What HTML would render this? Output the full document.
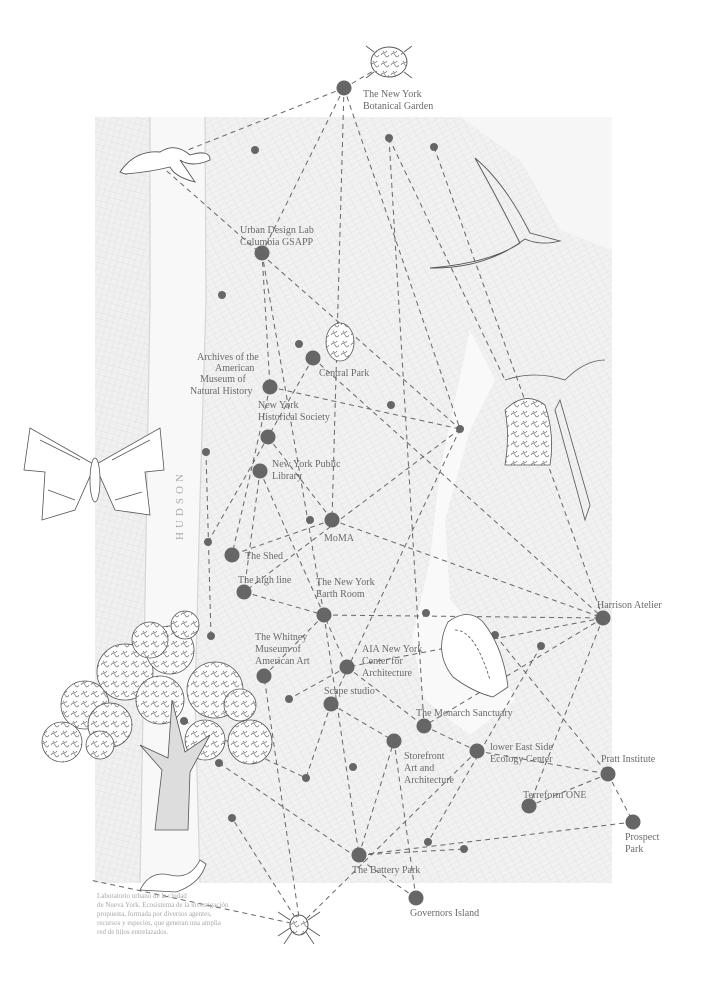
<!DOCTYPE html>
<html><head><meta charset="utf-8"><style>
html,body{margin:0;padding:0;background:#fff;}
svg{display:block;}
text{font-family:"Liberation Serif",serif;fill:#6a6a6a;font-size:10px;}
.cap{font-size:7px;fill:#a8a8a8;}
</style></head><body>
<svg width="707" height="1000" viewBox="0 0 707 1000" xmlns="http://www.w3.org/2000/svg">
<defs>
<pattern id="streets" width="8" height="5" patternUnits="userSpaceOnUse" patternTransform="rotate(-28)">
<rect width="8" height="5" fill="#f1f1f1"/>
<path d="M0 0H8M0 0V5" stroke="#e0e0e0" stroke-width="0.8"/>
</pattern>
<pattern id="streets2" width="6" height="6" patternUnits="userSpaceOnUse" patternTransform="rotate(15)">
<rect width="6" height="6" fill="#f0f0f0"/>
<path d="M0 0H6M0 0V6" stroke="#dedede" stroke-width="0.7"/>
</pattern>
<pattern id="leaf" width="10" height="10" patternUnits="userSpaceOnUse">
<rect width="10" height="10" fill="#fff"/>
<path d="M1 5q2-4 4 0t4 0M3 1q2 3 4 0" stroke="#777" stroke-width="0.7" fill="none"/>
</pattern>
</defs>
<rect x="95" y="117" width="517" height="766" fill="url(#streets)"/>
<path d="M95 117H150V883H95Z" fill="url(#streets2)"/>
<path d="M150 117 L205 117 L206 300 L200 500 L195 700 L200 883 L140 883 L145 600 L150 300 Z" fill="#f8f8f8"/>
<path d="M150 117 L150 300 L145 600 L140 883" stroke="#d6d6d6" fill="none" stroke-width="1.2"/>
<path d="M205 117 L206 300 L200 500 L195 700 L200 883" stroke="#d6d6d6" fill="none" stroke-width="1.2"/>
<text x="183" y="540" transform="rotate(-90 183 540)" style="font-size:11px;fill:#aaa;letter-spacing:4px">HUDSON</text>
<path d="M470 330 L495 380 L470 430 L445 520 L450 600 L495 650 L515 700 L470 735 L425 700 L412 640 L430 560 L440 470 Z" fill="#f9f9f9"/>
<path d="M460 117 L520 160 L560 230 L612 250 L612 117 Z" fill="#f6f6f6"/>
<g stroke="#666" stroke-width="1" stroke-dasharray="5,4" fill="none">
<path d="M344 88 L150 165"/><path d="M344 88 L389 62"/><path d="M344 88 L262 253"/>
<path d="M344 88 L332 520"/><path d="M344 88 L460 429"/><path d="M389 138 L424 726"/>
<path d="M434 147 L603 618"/><path d="M160 165 L460 429"/>
<path d="M262 253 L270 387"/><path d="M262 253 L324 615"/><path d="M270 387 L460 429"/>
<path d="M270 387 L232 555"/><path d="M313 358 L208 542"/><path d="M313 358 L603 618"/>
<path d="M268 437 L332 520"/><path d="M260 471 L244 592"/><path d="M260 471 L347 667"/>
<path d="M332 520 L603 618"/><path d="M332 520 L232 555"/><path d="M460 429 L244 592"/>
<path d="M460 429 L331 704"/><path d="M244 592 L324 615"/><path d="M324 615 L603 618"/>
<path d="M324 615 L359 855"/><path d="M324 615 L264 676"/><path d="M603 618 L347 667"/>
<path d="M603 618 L529 806"/><path d="M603 618 L424 726"/><path d="M347 667 L424 726"/>
<path d="M347 667 L289 699"/><path d="M331 704 L394 741"/><path d="M331 704 L306 778"/>
<path d="M424 726 L477 751"/><path d="M394 741 L416 898"/><path d="M477 751 L608 774"/>
<path d="M477 751 L300 925"/><path d="M608 774 L633 822"/><path d="M608 774 L529 806"/>
<path d="M633 822 L359 855"/><path d="M359 855 L464 849"/><path d="M359 855 L394 741"/>
<path d="M416 898 L219 763"/><path d="M300 925 L232 818"/><path d="M300 925 L90 880"/>
<path d="M300 925 L264 676"/><path d="M211 636 L206 452"/><path d="M184 721 L306 778"/>
<path d="M389 138 L505 380"/><path d="M495 635 L608 774"/><path d="M541 646 L428 842"/>
</g>
<g fill="#666">
<circle cx="389" cy="138" r="4"/><circle cx="255" cy="150" r="4"/><circle cx="434" cy="147" r="4"/>
<circle cx="222" cy="295" r="4"/><circle cx="299" cy="344" r="4"/><circle cx="391" cy="405" r="4"/>
<circle cx="460" cy="429" r="4"/><circle cx="206" cy="452" r="4"/><circle cx="310" cy="520" r="4"/>
<circle cx="208" cy="542" r="4"/><circle cx="426" cy="613" r="4"/><circle cx="211" cy="636" r="4"/>
<circle cx="495" cy="635" r="4"/><circle cx="541" cy="646" r="4"/><circle cx="289" cy="699" r="4"/>
<circle cx="184" cy="721" r="4"/><circle cx="219" cy="763" r="4"/><circle cx="353" cy="767" r="4"/>
<circle cx="306" cy="778" r="4"/><circle cx="232" cy="818" r="4"/><circle cx="428" cy="842" r="4"/>
<circle cx="464" cy="849" r="4"/>
<circle cx="344" cy="88" r="7.5"/><circle cx="262" cy="253" r="7.5"/><circle cx="313" cy="358" r="7.5"/>
<circle cx="270" cy="387" r="7.5"/><circle cx="268" cy="437" r="7.5"/><circle cx="260" cy="471" r="7.5"/>
<circle cx="332" cy="520" r="7.5"/><circle cx="232" cy="555" r="7.5"/><circle cx="244" cy="592" r="7.5"/>
<circle cx="324" cy="615" r="7.5"/><circle cx="603" cy="618" r="7.5"/><circle cx="347" cy="667" r="7.5"/>
<circle cx="264" cy="676" r="7.5"/><circle cx="331" cy="704" r="7.5"/><circle cx="424" cy="726" r="7.5"/>
<circle cx="394" cy="741" r="7.5"/><circle cx="477" cy="751" r="7.5"/><circle cx="608" cy="774" r="7.5"/>
<circle cx="529" cy="806" r="7.5"/><circle cx="633" cy="822" r="7.5"/><circle cx="359" cy="855" r="7.5"/>
<circle cx="416" cy="898" r="7.5"/>
</g>
<!-- tree -->
<g fill="url(#leaf)" stroke="#555" stroke-width="0.8">
<circle cx="85" cy="705" r="24"/><circle cx="125" cy="672" r="28"/><circle cx="170" cy="650" r="24"/>
<circle cx="215" cy="690" r="28"/><circle cx="250" cy="742" r="22"/><circle cx="62" cy="742" r="20"/>
<circle cx="110" cy="725" r="22"/><circle cx="160" cy="700" r="24"/><circle cx="205" cy="740" r="20"/>
<circle cx="150" cy="640" r="18"/><circle cx="185" cy="625" r="14"/><circle cx="240" cy="705" r="16"/>
<circle cx="100" cy="745" r="14"/>
</g>
<path d="M155 830 L162 770 L140 745 L168 758 L172 700 L185 752 L210 735 L190 772 L188 830 Z" fill="#ddd" stroke="#555" stroke-width="0.8"/>
<path d="M140 890 q10-20 30-15 q20 5 30-15 l6 4 q-6 20-30 28 z" fill="#fff" stroke="#555" stroke-width="0.8"/>
<g fill="#fff" stroke="#555" stroke-width="0.8">
<path d="M95 465 L30 428 L24 470 L45 472 L42 520 L75 510 Z"/>
<path d="M95 465 L160 428 L164 470 L145 472 L150 515 L115 510 Z"/>
<path d="M40 440 L80 460 M48 490 L75 500 M150 440 L112 460 M142 492 L115 500" fill="none"/>
<ellipse cx="95" cy="480" rx="5" ry="22"/>
</g>
<path d="M120 172 q15-22 40-20 q15-10 30 3 q20-6 20 5 q-18 8-30 0 l15 22 q-20-5-25-15 q-20 5-45 7 z" fill="#fff" stroke="#555" stroke-width="0.9"/>
<path d="M430 268 q60-5 90-25 q-20-40-45-85 q30 25 55 75 l30 8 q-20 5-35-2 q-40 30-95 29z" fill="none" stroke="#555" stroke-width="0.9"/>
<ellipse cx="340" cy="342" rx="14" ry="19" fill="url(#leaf)" stroke="#555" stroke-width="0.8"/>
<path d="M505 410 q20-20 40-5 q10 30 5 60 l-45 0 q5-30 0-55z" fill="url(#leaf)" stroke="#555" stroke-width="0.8"/>
<path d="M560 400 L590 505 L585 520 L555 410 Z M505 380 q30-10 60 0 q20-20 40-20" fill="none" stroke="#555" stroke-width="0.8"/>
<path d="M448 622 q20-15 35 0 q20 25 25 65 l-15 10 q-20-5-40-20 q-20-25-5-55z" fill="#fff" stroke="#555" stroke-width="0.8"/>
<path d="M455 630 q20 0 35 50" fill="none" stroke="#555" stroke-width="0.8" stroke-dasharray="3,2"/>
<ellipse cx="389" cy="62" rx="18" ry="15" fill="url(#leaf)" stroke="#555" stroke-width="0.9"/>
<path d="M374 52l-8-6M404 52l8-6M374 72l-8 6M404 72l8 6" stroke="#555" stroke-width="0.8"/>
<ellipse cx="299" cy="925" rx="9" ry="10" fill="url(#leaf)" stroke="#555"/>
<path d="M290 920l-12-8M290 928l-12 8M308 920l12-8M308 928l12 8M292 932l-8 12M306 932l8 12" stroke="#555" stroke-width="0.8"/>
<text x="363" y="97">The New York</text><text x="363" y="109">Botanical Garden</text>
<text x="240" y="233">Urban Design Lab</text><text x="240" y="245">Columbia GSAPP</text>
<text x="319" y="376">Central Park</text>
<text x="197" y="360">Archives of the</text><text x="215" y="371">American</text>
<text x="200" y="382">Museum of</text><text x="190" y="394">Natural History</text>
<text x="258" y="408">New York</text><text x="258" y="420">Historical Society</text>
<text x="272" y="467">New York Public</text><text x="272" y="479">Library</text>
<text x="324" y="541">MoMA</text>
<text x="245" y="559">The Shed</text>
<text x="238" y="583">The high line</text>
<text x="316" y="585">The New York</text><text x="316" y="597">Earth Room</text>
<text x="597" y="608">Harrison Atelier</text>
<text x="255" y="640">The Whitney</text><text x="255" y="652">Museum of</text><text x="255" y="664">American Art</text>
<text x="362" y="652">AIA New York</text><text x="362" y="664">Center for</text><text x="362" y="676">Architecture</text>
<text x="324" y="694">Scape studio</text>
<text x="416" y="716">The Monarch Sanctuary</text>
<text x="490" y="750">lower East Side</text><text x="490" y="762">Ecology Center</text>
<text x="404" y="759">Storefront</text><text x="404" y="771">Art and</text><text x="404" y="783">Architecture</text>
<text x="601" y="762">Pratt Institute</text>
<text x="523" y="798">Terreform ONE</text>
<text x="625" y="840">Prospect</text><text x="625" y="852">Park</text>
<text x="352" y="873">The Battery Park</text>
<text x="410" y="916">Governors Island</text>
<text class="cap" x="97" y="898">Laboratorio urbano de la ciudad</text>
<text class="cap" x="97" y="907">de Nueva York. Ecosistema de la investigación</text>
<text class="cap" x="97" y="916">propuesta, formada por diversos agentes,</text>
<text class="cap" x="97" y="925">recursos y especies, que generan una amplia</text>
<text class="cap" x="97" y="934">red de hilos entrelazados.</text>
</svg>
</body></html>
